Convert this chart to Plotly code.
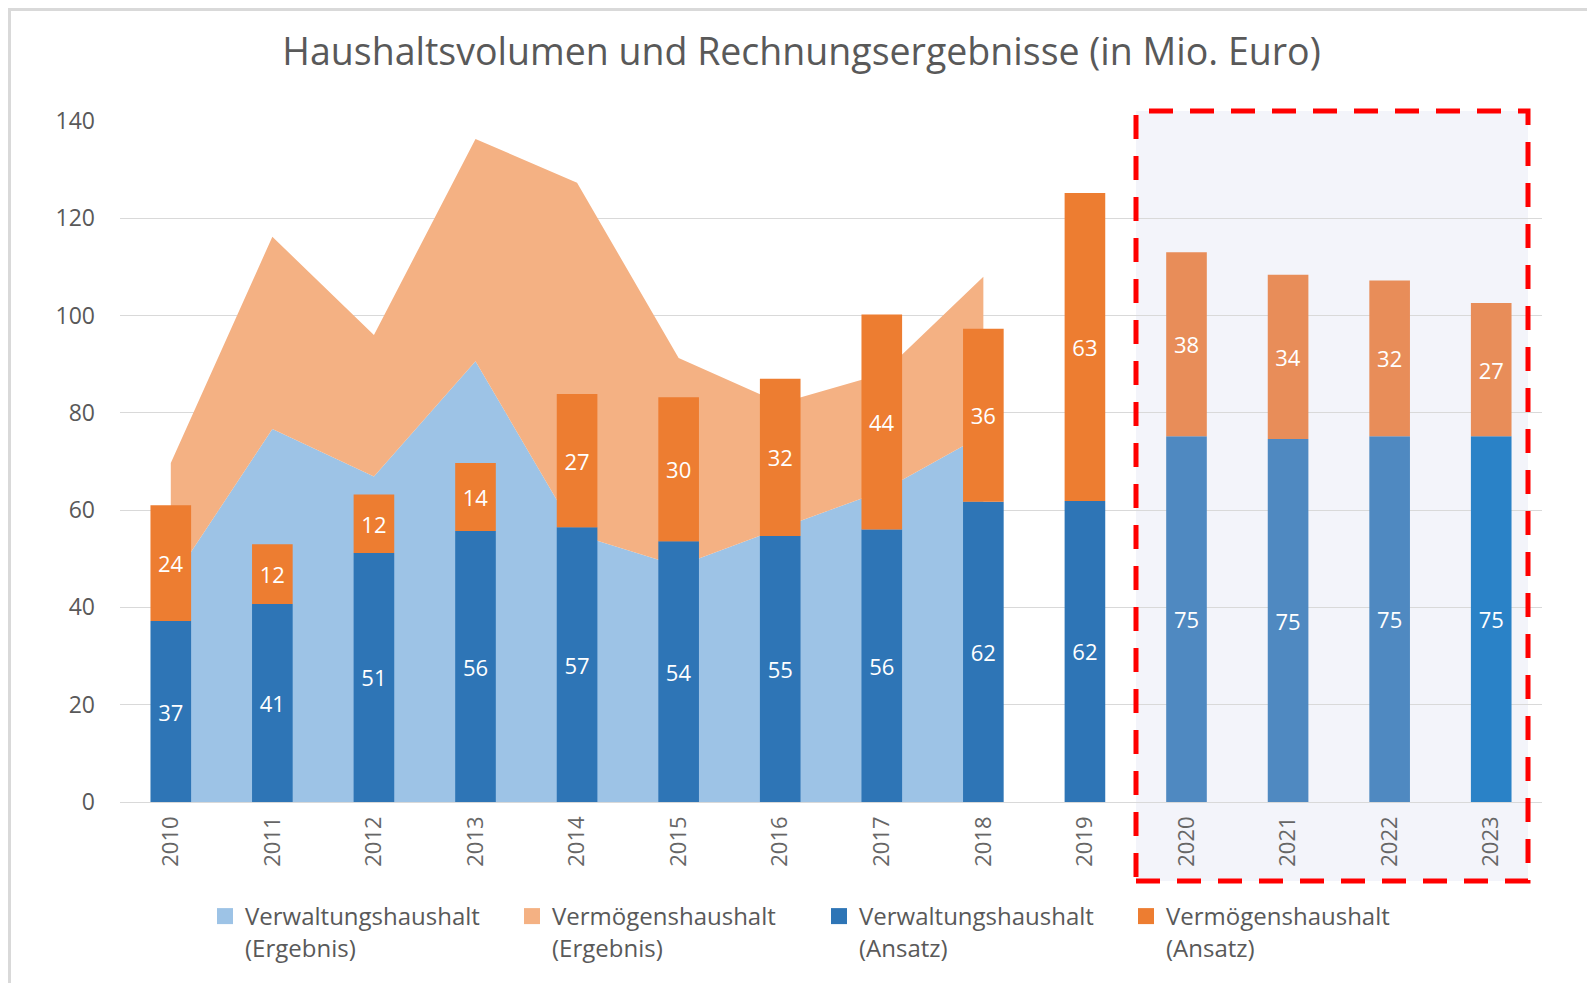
import plotly.graph_objects as go

# ── Data ─────────────────────────────────────────────────────────────────────

years = [str(y) for y in range(2010, 2024)]
result_years = years[:9]  # 2010–2018: Rechnungsergebnisse

verwaltung_ergebnis = [45.1, 76.7, 66.9, 90.6, 55.0, 48.5, 56.3, 63.9, 75.5]
vermoegen_ergebnis = [24.6, 39.5, 29.1, 45.7, 72.3, 42.8, 25.7, 24.1, 32.5]

verwaltung_ansatz = [37.2, 40.7, 51.2, 55.7, 56.5, 53.6, 54.7, 56.0, 61.7, 61.9,
                     75.2, 74.6, 75.2, 75.2]
vermoegen_ansatz = [23.8, 12.3, 12.0, 14.0, 27.4, 29.6, 32.3, 44.2, 35.6, 63.3,
                    37.8, 33.8, 32.0, 27.4]

# colours per bar (planned years 2020–2023 appear lighter under the overlay)
blue_bars = ["#2E75B6"] * 10 + ["#4F89C1"] * 3 + ["#2A82C7"]
orange_bars = ["#ED7D31"] * 10 + ["#E88D59"] * 4

legend_names = ["Verwaltungshaushalt<br>(Ergebnis)", "Vermögenshaushalt<br>(Ergebnis)",
                "Verwaltungshaushalt<br>(Ansatz)", "Vermögenshaushalt<br>(Ansatz)"]
legend_colors = ["#9DC3E6", "#F4B183", "#2E75B6", "#ED7D31"]

FONT = "Open Sans, Segoe UI, sans-serif"
GREY = "#595959"

# page has an 8px body margin; layout numbers below are page pixels
OFF = 8
W, H = 1595 - OFF, 983 - OFF
L, R, T, B = 120, 1542, 121, 802   # plot area on the page


def px_x(x):
    return (x - L) / (R - L)


def px_y(y):
    return (B - y) / (B - T)


fig = go.Figure()

# ── Ergebnis areas (bottom layer) ────────────────────────────────────────────
fig.add_trace(go.Scatter(
    x=result_years, y=verwaltung_ergebnis, name=legend_names[0],
    stackgroup="ergebnis", mode="none", fillcolor="#9DC3E6", line=dict(width=0),
    hoverinfo="skip", showlegend=False,
))
fig.add_trace(go.Scatter(
    x=result_years, y=vermoegen_ergebnis, name=legend_names[1],
    stackgroup="ergebnis", mode="none", fillcolor="#F4B183", line=dict(width=0),
    hoverinfo="skip", showlegend=False,
))

# ── Ansatz bars (overlaid axes so they sit above the areas) ──────────────────
for vals, colors, name in [(verwaltung_ansatz, blue_bars, legend_names[2]),
                           (vermoegen_ansatz, orange_bars, legend_names[3])]:
    fig.add_trace(go.Bar(
        x=years, y=vals, name=name, xaxis="x2", yaxis="y2",
        marker=dict(color=colors, line=dict(width=0)),
        texttemplate="%{y:.0f}", textposition="inside",
        insidetextanchor="middle", textangle=0,
        textfont=dict(color="white", size=22, family=FONT), hoverinfo="skip",
        showlegend=False,
    ))

# legend entries with square swatches
for name, color in zip(legend_names, legend_colors):
    fig.add_trace(go.Scatter(
        x=[None], y=[None], name=name, mode="markers", xaxis="x2", yaxis="y2",
        marker=dict(symbol="square", size=16, color=color), hoverinfo="skip",
    ))

# shaded planning period + red dashed frame
box = dict(xref="paper", yref="paper",
           x0=px_x(1136), x1=px_x(1528), y0=px_y(881), y1=px_y(111))
fig.add_shape(type="rect", **box, fillcolor="#F3F4FA", line=dict(width=0), layer="below")
fig.add_shape(type="rect", **box, line=dict(color="#FF0000", width=5, dash="24px,17px"),
              layer="above")

# light outer frame (top, left, right)
fig.add_shape(type="path", xref="paper", yref="paper",
              path=f"M {px_x(9.5)},{px_y(1000)} L {px_x(9.5)},{px_y(9.5)} "
                   f"L {px_x(1591)},{px_y(9.5)} L {px_x(1591)},{px_y(1000)}",
              line=dict(color="#D9D9D9", width=3), layer="above")

fig.update_layout(
    width=W, height=H,
    margin=dict(l=L - OFF, r=W - (R - OFF), t=T - OFF, b=H - (B - OFF), autoexpand=False),
    paper_bgcolor="white", plot_bgcolor="rgba(0,0,0,0)",
    barmode="relative", bargap=0.6,
    font=dict(family=FONT, color=GREY),
    title=dict(text="Haushaltsvolumen und Rechnungsergebnisse (in Mio. Euro)",
               x=(801.5 - OFF) / W, xref="container", y=1 - (52 - OFF) / H, yref="container",
               xanchor="center", yanchor="middle",
               font=dict(size=37.5, color=GREY, family=FONT)),
    legend=dict(orientation="h", x=(205 - OFF) / W, xref="container", y=px_y(894),
                xanchor="left", yanchor="top",
                entrywidth=262, entrywidthmode="pixels", valign="top",
                font=dict(size=24, color=GREY, family=FONT), traceorder="normal"),
    showlegend=True,
    xaxis=dict(categoryorder="array", categoryarray=years, range=[-0.5, 13.5],
               showticklabels=False, showgrid=False, showline=False, ticks=""),
    yaxis=dict(range=[0, 140], dtick=20, gridcolor="#D9D9D9", gridwidth=1,
               zeroline=True, zerolinecolor="#D9D9D9", zerolinewidth=1,
               tickfont=dict(size=23, color=GREY, family=FONT),
               ticks="", ticklabelstandoff=24),
    xaxis2=dict(overlaying="x", side="bottom", categoryorder="array", categoryarray=years,
                range=[-0.5, 13.5], tickangle=-90,
                tickfont=dict(size=22, color="#666666", family=FONT),
                showgrid=False, showline=False, ticks="", ticklabelstandoff=9),
    yaxis2=dict(overlaying="y", range=[0, 140], visible=False, showgrid=False),
)

fig.write_html("out.html")
